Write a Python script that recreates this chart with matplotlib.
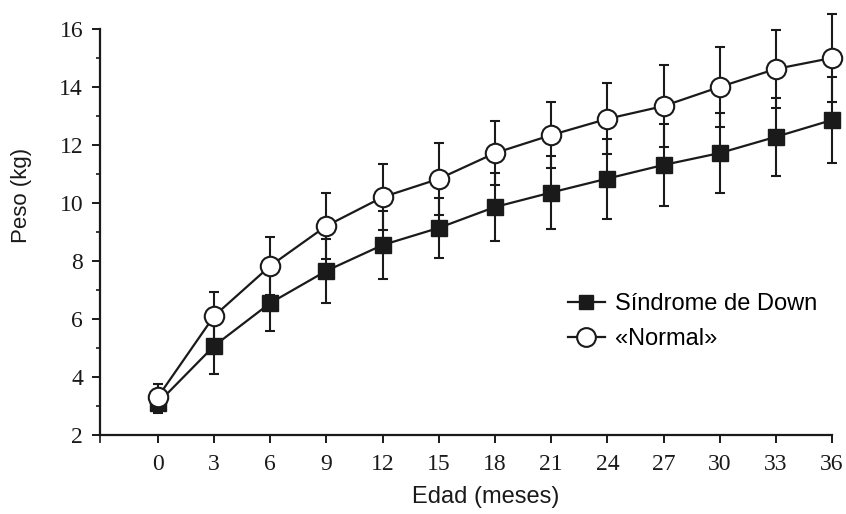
import matplotlib.pyplot as plt
import numpy as np
from matplotlib.lines import Line2D

# edad en meses
edad = [0, 3, 6, 9, 12, 15, 18, 21, 24, 27, 30, 33, 36]

# peso medio (kg) y desviacion
peso_down = [3.1, 5.07, 6.55, 7.66, 8.55, 9.14, 9.86, 10.36, 10.84, 11.31, 11.72, 12.28, 12.86]
err_down = [0.35, 0.97, 0.96, 1.1, 1.17, 1.04, 1.17, 1.27, 1.38, 1.4, 1.38, 1.35, 1.48]
peso_normal = [3.31, 6.1, 7.83, 9.21, 10.2, 10.83, 11.72, 12.34, 12.9, 13.34, 14.0, 14.62, 15.0]
err_normal = [0.45, 0.83, 1.0, 1.13, 1.14, 1.24, 1.11, 1.14, 1.22, 1.42, 1.38, 1.35, 1.52]

color = "#1a1a1a"
serif = "Liberation Serif"
sans = "Liberation Sans"

fig = plt.figure(figsize=(8.46, 5.14), dpi=100)
ax = fig.add_axes([0.118, 0.1537, 0.8655, 0.79])

eb1 = ax.errorbar(edad, peso_down, yerr=err_down, color=color, lw=1.6, marker="s", ms=11.5,
                  mfc=color, mec=color, elinewidth=1.5, capsize=3.6, capthick=1.5, zorder=3)
eb2 = ax.errorbar(edad, peso_normal, yerr=err_normal, color=color, lw=1.6, marker="o", ms=14,
                  mfc="white", mec=color, mew=1.5, elinewidth=1.5, capsize=3.6, capthick=1.5,
                  zorder=4)
for eb in (eb1, eb2):
    for art in eb.get_children():
        art.set_clip_on(False)

ax.set_xlim(-3.1, 36)
ax.set_ylim(2, 16)
ax.set_xticks(edad)
ax.set_xticks([-3.1], minor=True)
ax.set_yticks(np.arange(2, 17, 2))
ax.set_yticks(np.arange(3, 16, 2), minor=True)
for s in ["top", "right"]:
    ax.spines[s].set_visible(False)
for s in ["left", "bottom"]:
    ax.spines[s].set_linewidth(1.6)
    ax.spines[s].set_color(color)
ax.tick_params(axis="both", which="major", direction="out", length=6, width=1.4,
               colors=color, labelsize=17)
ax.tick_params(axis="both", which="minor", direction="out", length=3, width=1.2, colors=color)
ax.tick_params(axis="x", which="minor", length=6)
ax.tick_params(axis="x", pad=8)
ax.tick_params(axis="y", pad=6)
for lab in ax.get_xticklabels() + ax.get_yticklabels():
    lab.set_fontfamily(serif)

ax.set_xlabel("Edad (meses)", fontsize=17, family=sans, color=color)
ax.xaxis.set_label_coords(0.527, -0.125)
ax.set_ylabel("Peso (kg)", fontsize=16, family=sans, color=color)
ax.yaxis.set_label_coords(-0.093, 0.59)

handles = [
    Line2D([], [], color=color, lw=1.6, marker="s", ms=10.5, mfc=color, mec=color),
    Line2D([], [], color=color, lw=1.6, marker="o", ms=13.5, mfc="white", mec=color, mew=1.5),
]
ax.legend(handles, ["Síndrome de Down", "«Normal»"], loc="upper left",
          bbox_to_anchor=(0.639, 0.35), frameon=False, borderpad=0, borderaxespad=0,
          handlelength=1.57, handletextpad=0.42, labelspacing=0.55,
          prop={"family": sans, "size": 17})

plt.savefig("out.png", dpi=100)
